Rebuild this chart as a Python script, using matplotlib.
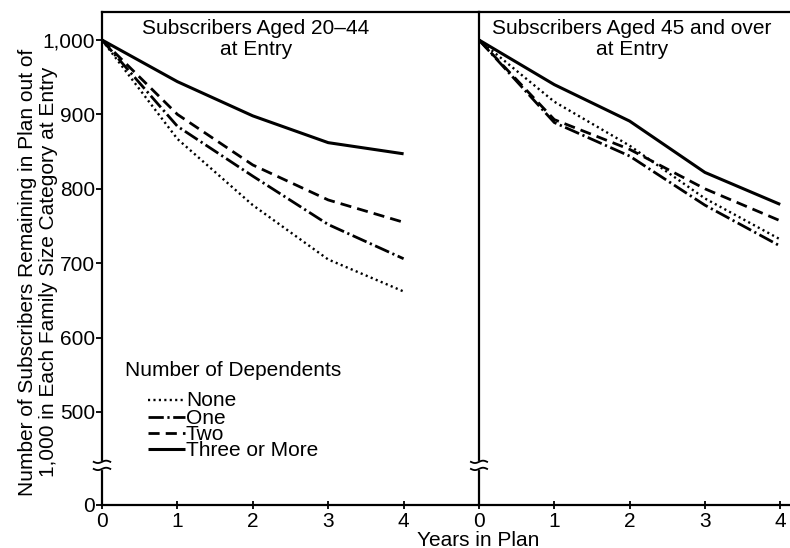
import matplotlib
matplotlib.use("Agg")
import matplotlib.pyplot as plt
from matplotlib.lines import Line2D
import numpy as np

plt.rcParams['font.family'] = ['Liberation Sans', 'DejaVu Sans']

years = [0, 1, 2, 3, 4]
series_names = ["None", "One", "Two", "Three or More"]

young_none = [1000, 867, 778, 705, 662]
young_one = [1000, 884, 817, 752, 706]
young_two = [1000, 900, 832, 785, 755]
young_three = [1000, 944, 898, 862, 847]

old_none = [1000, 917, 858, 787, 732]
old_one = [1000, 889, 844, 778, 723]
old_two = [1000, 893, 853, 800, 757]
old_three = [1000, 940, 891, 822, 779]

ytick_vals = [1000, 900, 800, 700, 600, 500]
ytick_labels = ["1,000", "900", "800", "700", "600", "500"]
zero_pos = 375  # plotted position of the "0" after the axis break
titles = ["Subscribers Aged 20\u201344\nat Entry", "Subscribers Aged 45 and over\nat Entry"]

FS = 15

styles = {
    "None": dict(lw=1.7, ls=(0, (0.9, 1.4))),
    "One": dict(lw=2.0, ls=(0, (5.5, 1.3, 0.8, 1.3))),
    "Two": dict(lw=2.0, ls=(0, (4.0, 2.2))),
    "Three or More": dict(lw=2.2, ls="-"),
}

W, H = 790, 548
fig = plt.figure(figsize=(W / 100, H / 100), dpi=100)

def fx(px):
    return px / W

def fy(py):
    return 1 - py / H

axL = fig.add_axes([fx(102), fy(505), fx(479) - fx(102), fy(12) - fy(505)])
axR = fig.add_axes([fx(479), fy(505), fx(790) - fx(479), fy(12) - fy(505)])

data = [
    [young_none, young_one, young_two, young_three],
    [old_none, old_one, old_two, old_three],
]

for i, (ax, d) in enumerate(zip([axL, axR], data)):
    for name, vals in zip(series_names, d):
        st = styles[name]
        ax.plot(years, vals, color="black", lw=st["lw"], linestyle=st["ls"],
                solid_capstyle="butt", dash_capstyle="butt")
    ax.set_ylim(zero_pos, 1037.6)
    ax.spines["right"].set_visible(False)
    for s in ["left", "top", "bottom"]:
        ax.spines[s].set_linewidth(1.6)
    ax.set_xticks(years)
    ax.tick_params(axis="x", direction="inout", length=6, width=1.3,
                   labelsize=FS, pad=2)
    ax.text(2.03 if i == 1 else 2.04, 1028, titles[i], ha="center", va="top",
            fontsize=FS, linespacing=1.15)
    # axis break marks
    trans = ax.get_yaxis_transform()
    for yb in [433, 423.5]:
        t = np.linspace(-1, 1, 30)
        xs = t * 0.022 if i == 0 else t * 0.026
        ys = yb + 1.6 * np.sin(t * np.pi)
        ax.plot(xs, ys, color="black", lw=1.3, transform=trans, clip_on=False, zorder=5)
    ax.plot([0, 0], [425, 431.5], color="white", lw=3, transform=trans,
            clip_on=False, zorder=4)

axL.set_xlim(0, 5.0)
axR.set_xlim(0, 4.13)
axL.set_yticks(ytick_vals + [zero_pos])
axL.set_yticklabels(ytick_labels + ["0"])
axL.tick_params(axis="y", direction="out", length=4, width=1.3, labelsize=FS, pad=1)
axR.set_yticks([])

# legend (drawn manually in figure coordinates)
fig.text(fx(125), fy(371), "Number of Dependents", ha="left", va="center", fontsize=FS)
rows_y = [400, 417, 433, 449]
for name, ry in zip(series_names, rows_y):
    st = styles[name]
    fig.add_artist(Line2D([fx(148), fx(185)], [fy(ry), fy(ry)], color="black",
                          lw=st["lw"], linestyle=st["ls"], transform=fig.transFigure,
                          solid_capstyle="butt", dash_capstyle="butt"))
    fig.text(fx(186), fy(ry + 1), name, ha="left", va="center", fontsize=FS)

fig.text(fx(38), fy(272),
         "Number of Subscribers Remaining in Plan out of\n1,000 in Each Family Size Category at Entry",
         rotation=90, ha="center", va="center", fontsize=FS, linespacing=1.15)
fig.text(fx(478), fy(540), "Years in Plan", ha="center", va="center", fontsize=FS)

fig.savefig("out.png", dpi=100)
